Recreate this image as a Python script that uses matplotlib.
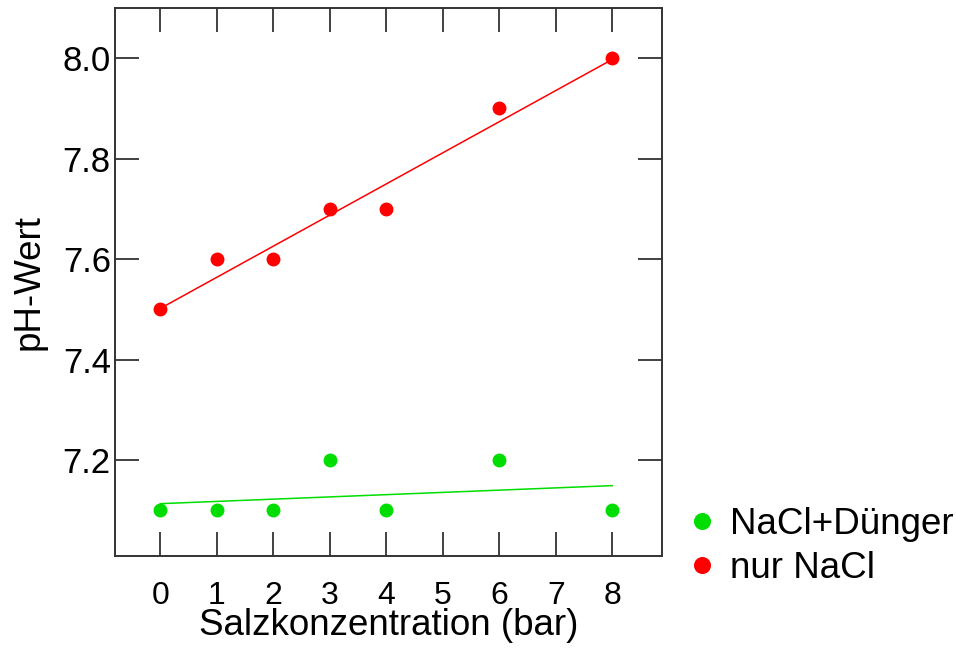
import numpy as np
import matplotlib.pyplot as plt

plt.rcParams['font.family'] = ['Liberation Sans', 'DejaVu Sans']

# Salzkonzentration (bar)
konz = [0, 1, 2, 3, 4, 6, 8]
ph_duenger = [7.1, 7.1, 7.1, 7.2, 7.1, 7.2, 7.1]
ph_nacl = [7.5, 7.6, 7.6, 7.7, 7.7, 7.9, 8.0]

gruen = '#00dd00'
rot = '#ff0000'

fig = plt.figure(figsize=(9.56, 6.5), dpi=100)
ax = fig.add_axes([115/956, 1 - 556/650, (662-115)/956, (556-8)/650])

x = np.array(konz)
for werte, farbe, name in [(ph_duenger, gruen, 'NaCl+Dünger'), (ph_nacl, rot, 'nur NaCl')]:
    ax.plot(konz, werte, 'o', color=farbe, markersize=9, label=name, zorder=3)
    k, d = np.polyfit(x, werte, 1)  # lineare Regression
    ax.plot([x.min(), x.max()], [d + k*x.min(), d + k*x.max()], '-', color=farbe, lw=1.1)

ax.set_xlim(-0.8, 8.88)
ax.set_ylim(7.009, 8.1)
ax.set_xticks(range(9))
ax.set_yticks([7.2, 7.4, 7.6, 7.8, 8.0])
ax.set_yticklabels(['7.2', '7.4', '7.6', '7.8', '8.0'])
ax.tick_params(direction='in', length=17, width=1.3, color='#333333',
               top=True, right=True)
ax.tick_params(axis='y', labelsize=25, pad=3)
ax.tick_params(axis='x', labelsize=23, pad=18)
for s in ax.spines.values():
    s.set_color('#333333')
    s.set_linewidth(1.4)

ax.set_xlabel('Salzkonzentration (bar)', fontsize=26.5, labelpad=-2)
ax.set_ylabel('pH-Wert', fontsize=26.5, labelpad=11.5)

ax.legend(loc='upper left', bbox_to_anchor=(1.026, 0.117), frameon=False, fontsize=26.5,
          handlelength=0.6, handletextpad=0.47, labelspacing=0.245, borderaxespad=0,
          markerscale=1.25)

fig.savefig('out.png', dpi=100)
